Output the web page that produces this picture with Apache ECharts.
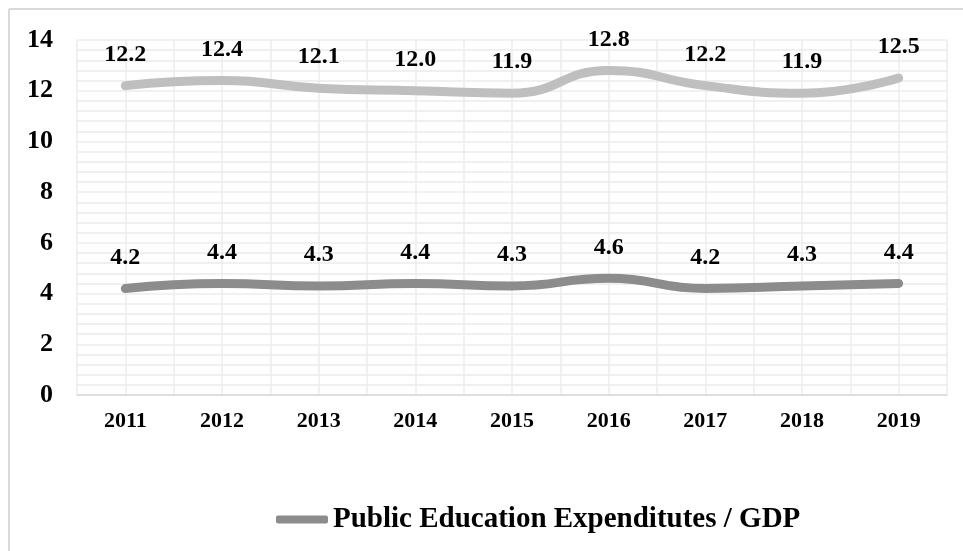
<!DOCTYPE html>
<html>
<head>
<meta charset="utf-8">
<script src="https://cdn.jsdelivr.net/npm/echarts@6/dist/echarts.min.js"></script>
<style>html,body{margin:0;padding:0;background:#fff}#c{width:963px;height:551px}</style>
</head>
<body>
<div id="c"></div>
<script>
var years = ['2011','2012','2013','2014','2015','2016','2017','2018','2019'];
var upperValues = [12.2, 12.4, 12.1, 12.0, 11.9, 12.8, 12.2, 11.9, 12.5];
var lowerValues = [4.2, 4.4, 4.3, 4.4, 4.3, 4.6, 4.2, 4.3, 4.4];
var upperName = 'Series 2';
var lowerName = 'Public Education Expenditutes / GDP';

var FONT = '"Liberation Serif", "Times New Roman", serif';
var chart = echarts.init(document.getElementById('c'), null, {renderer: 'canvas'});
var gridColor = '#ececec';
var labelStyle = {show: true, position: 'top', distance: 19, formatter: function(p){return p.value.toFixed(1);}, fontFamily: FONT, fontWeight: 'bold', fontSize: 24, color: '#000'};
chart.setOption({
  animation: false,
  backgroundColor: '#ffffff',
  graphic: [
    {type: 'line', shape: {x1: 9, y1: 9, x2: 963, y2: 9}, style: {stroke: '#d9d9d9', lineWidth: 2}, silent: true},
    {type: 'line', shape: {x1: 9, y1: 9, x2: 9, y2: 551}, style: {stroke: '#d9d9d9', lineWidth: 2}, silent: true}
  ],
  grid: {left: 77, right: 16, top: 40, bottom: 156, containLabel: false},
  legend: {
    data: [lowerName],
    top: 500,
    left: 271,
    icon: 'roundRect',
    itemWidth: 52,
    itemHeight: 8,
    itemStyle: {color: '#8c8c8c'},
    textStyle: {fontFamily: FONT, fontWeight: 'bold', fontSize: 29, color: '#000'}
  },
  xAxis: [
    {
      type: 'category',
      data: years,
      boundaryGap: true,
      axisLine: {show: true, lineStyle: {color: '#d9d9d9', width: 1.5}},
      axisTick: {show: false},
      splitLine: {show: false},
      axisLabel: {fontFamily: FONT, fontWeight: 'bold', fontSize: 22, color: '#000', margin: 15}
    },
    {
      type: 'value',
      min: 0, max: 18, interval: 1,
      position: 'bottom',
      axisLine: {show: false}, axisTick: {show: false}, axisLabel: {show: false},
      splitLine: {show: true, lineStyle: {color: gridColor, width: 1.5}}
    }
  ],
  yAxis: {
    type: 'value',
    min: 0, max: 14, interval: 2,
    axisLine: {show: false},
    axisTick: {show: false},
    axisLabel: {fontFamily: FONT, fontWeight: 'bold', fontSize: 26, color: '#000', margin: 24},
    splitLine: {show: true, lineStyle: {color: gridColor, width: 1.5}},
    minorTick: {show: false, splitNumber: 5},
    minorSplitLine: {show: true, lineStyle: {color: gridColor, width: 1.5}}
  },
  series: [
    {
      name: upperName,
      type: 'line',
      xAxisIndex: 0,
      data: upperValues,
      smooth: true,
      symbol: 'circle',
      symbolSize: 0.1,
      showSymbol: true,
      lineStyle: {color: '#bfbfbf', width: 9, cap: 'round'},
      itemStyle: {color: '#bfbfbf'},
      label: labelStyle
    },
    {
      name: lowerName,
      type: 'line',
      xAxisIndex: 0,
      data: lowerValues,
      smooth: true,
      symbol: 'circle',
      symbolSize: 0.1,
      showSymbol: true,
      lineStyle: {color: '#8c8c8c', width: 9, cap: 'round'},
      itemStyle: {color: '#8c8c8c'},
      label: labelStyle
    }
  ]
});
</script>
</body>
</html>
